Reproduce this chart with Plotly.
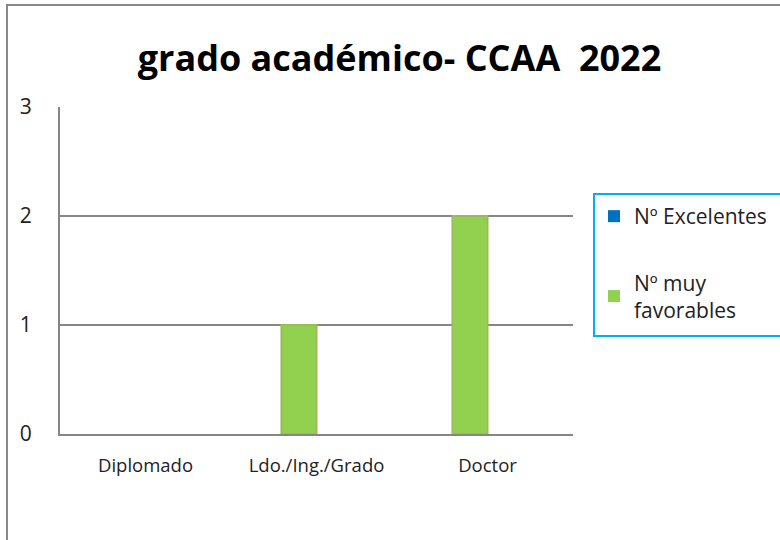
import plotly.graph_objects as go

categories = ["Diplomado", "Ldo./Ing./Grado", "Doctor"]
excelentes = [0, 0, 0]
muy_favorables = [0, 1, 2]
y_ticks = [0, 1, 2, 3]

FONT = "Open Sans"

fig = go.Figure()
fig.add_trace(go.Bar(
    x=categories, y=muy_favorables, name="Nº muy<br>favorables",
    marker=dict(color="#92D050",
                line=dict(color="#9BBB59", width=[0 if v == 0 else 2 for v in muy_favorables])),
    legendrank=2, legendgroup="g2",
))
fig.add_trace(go.Bar(
    x=categories, y=excelentes, name="Nº Excelentes",
    marker=dict(color="#0070C0", line=dict(width=0)),
    legendrank=1, legendgroup="g1",
))

L, R, T, B = 60, 573, 107, 434
W, H = 780, 540
pw, ph = R - L, B - T

def px_x(x):
    return (x - L) / pw

def px_y(y):
    return (B - y) / ph

fig.update_layout(
    width=W, height=H,
    margin=dict(l=L, r=W - R, t=T, b=H - B, pad=0, autoexpand=False),
    paper_bgcolor="white", plot_bgcolor="white",
    barmode="group", bargap=0.59, bargroupgap=0,
    font=dict(family=FONT, color="#222222"),
    title=dict(text="<b>grado académico- CCAA  2022</b>", x=(137 + 662) / 2 / W, xanchor="center",
               y=1 - 58 / H, yanchor="middle", font=dict(size=36, color="#000000", family=FONT)),
    showlegend=True,
    legend=dict(
        x=px_x(594), y=px_y(196), xanchor="left", yanchor="top",
        bgcolor="rgba(0,0,0,0)", borderwidth=0,
        traceorder="grouped", tracegroupgap=36,
        font=dict(size=21, color="#222222", family=FONT),
        itemwidth=30,
    ),
    xaxis=dict(
        showgrid=False, showline=True, linecolor="#868686", linewidth=2,
        ticks="", tickfont=dict(size=18.5, color="#222222"), ticklabelstandoff=14,
    ),
    yaxis=dict(
        range=[0, 3], tickvals=y_ticks, showgrid=True, gridcolor="#868686", gridwidth=2,
        showline=True, linecolor="#868686", linewidth=2, zeroline=False,
        ticks="", tickfont=dict(size=21, color="#222222"), ticklabelstandoff=22,
    ),
    shapes=[
        dict(type="rect", xref="paper", yref="paper",
             x0=px_x(7), x1=px_x(800), y0=px_y(560), y1=px_y(5),
             line=dict(color="#888888", width=2), fillcolor="rgba(0,0,0,0)", layer="below"),
        dict(type="rect", xref="paper", yref="paper",
             x0=px_x(594), x1=px_x(800), y0=px_y(336), y1=px_y(194),
             line=dict(color="#00B0F0", width=2), fillcolor="rgba(0,0,0,0)"),
    ],
)

fig.write_html("out.html", config={"displayModeBar": False},
               post_script="document.body.style.margin='0';")
